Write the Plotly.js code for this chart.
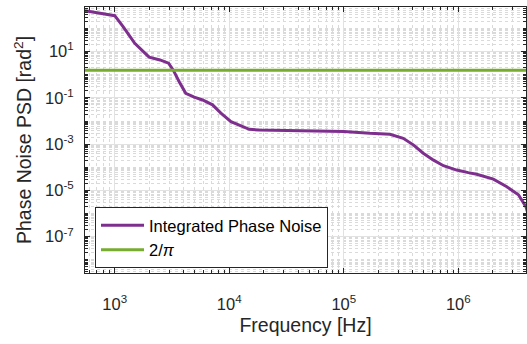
<!DOCTYPE html>
<html>
<head>
<meta charset="utf-8">
<script src="https://cdn.plot.ly/plotly-3.0.1.min.js"></script>
<style>html,body{margin:0;padding:0;background:#fff;}#chart{width:527px;height:344px;}</style>
</head>
<body>
<div id="chart"></div>
<script>
// Integrated phase noise
var freqHz = [550, 1000, 1183, 1496, 1995, 2483, 2951, 3236, 3656, 3936, 4169, 4943, 5848, 7145,
  8453, 10350, 12220, 14960, 18200, 31620, 100000, 169000, 252900, 330400, 404600, 494300, 602600,
  741300, 968300, 1222000, 1445000, 2023000, 2630000, 3350000, 3890000, 4169000];
var phaseNoise = [593, 359, 120, 22.9, 5.75, 4.37, 3.16, 1.62, 0.501, 0.251, 0.158, 0.107, 0.0813, 0.0501,
  0.0219, 0.00933, 0.00676, 0.00437, 0.00407, 0.00389, 0.00355, 0.00295, 0.00269, 0.0018, 9.33e-4, 4.07e-4, 2.09e-4,
  1.17e-4, 7.59e-5, 5.89e-5, 5.01e-5, 3.09e-5, 1.48e-5, 6.46e-6, 2.0e-6, 6.3e-7];

// Reference level line
var limitFreq = [500, 5000000];
var limitValue = [1.571, 1.571];

// Tick labels
var xTickVals = [1e3, 1e4, 1e5, 1e6];
var xTickText = ['10<sup>3</sup>', '10<sup>4</sup>', '10<sup>5</sup>', '10<sup>6</sup>'];
var yTickVals = [1e-7, 1e-5, 1e-3, 1e-1, 1e1];
var yTickText = ['10<sup>-7</sup>', '10<sup>-5</sup>', '10<sup>-3</sup>', '10<sup>-1</sup>', '10<sup>1</sup>'];

var axisColor = '#262626';
var fontFam = 'Liberation Sans, Arial, Helvetica, sans-serif';

var traces = [
  {x: freqHz, y: phaseNoise, type: 'scatter', mode: 'lines', name: 'Integrated Phase Noise',
   line: {color: '#7E2F8E', width: 3}},
  {x: limitFreq, y: limitValue, type: 'scatter', mode: 'lines', name: '2/<i>π</i>',
   line: {color: '#77AC30', width: 3}}
];

function axisBase() {
  return {
    type: 'log', showline: true, linecolor: axisColor, linewidth: 1, mirror: 'allticks',
    ticks: 'inside', ticklen: 5, tickwidth: 1, tickcolor: axisColor,
    showgrid: true, gridcolor: '#e2e2e2', gridwidth: 1, zeroline: false,
    tickfont: {family: fontFam, size: 16.5, color: axisColor},
    minor: {dtick: 'D1', ticks: 'inside', ticklen: 3, tickcolor: axisColor,
            showgrid: true, gridcolor: '#dadada', griddash: 'dot', gridwidth: 1}
  };
}

var xa = axisBase();
xa.range = [Math.log10(550), Math.log10(3.9e6)];
xa.tickmode = 'array'; xa.tickvals = xTickVals; xa.ticktext = xTickText;
xa.ticklabelstandoff = 16;
xa.title = {text: 'Frequency [Hz]', font: {family: fontFam, size: 19.5, color: axisColor}, standoff: 6};

var ya = axisBase();
ya.range = [-8.57, 2.93];
ya.tickmode = 'array'; ya.tickvals = yTickVals; ya.ticktext = yTickText;
ya.ticklabelstandoff = 7;
ya.title = {text: 'Phase Noise PSD [rad<sup>2</sup>]', font: {family: fontFam, size: 19.5, color: axisColor}, standoff: 8};

var layout = {
  width: 527, height: 344,
  margin: {l: 85, r: 1, t: 7, b: 71, pad: 0},
  paper_bgcolor: '#ffffff', plot_bgcolor: '#ffffff',
  font: {family: fontFam, color: axisColor},
  showlegend: true,
  legend: {x: 0.0227, y: 0.0188, xanchor: 'left', yanchor: 'bottom', itemwidth: 43,
           bgcolor: '#ffffff', bordercolor: axisColor, borderwidth: 1,
           font: {family: fontFam, size: 16.5, color: '#000000'}, tracegroupgap: 0},
  xaxis: xa, yaxis: ya
};

Plotly.newPlot('chart', traces, layout, {staticPlot: true, displayModeBar: false});
</script>
</body>
</html>
